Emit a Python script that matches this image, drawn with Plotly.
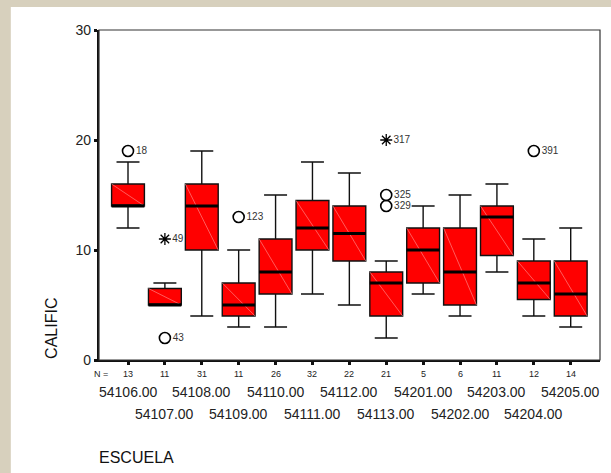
import plotly.graph_objects as go

# ---- data ----
schools = ["54106.00", "54107.00", "54108.00", "54109.00", "54110.00", "54111.00", "54112.00",
           "54113.00", "54201.00", "54202.00", "54203.00", "54204.00", "54205.00"]
n_counts = [13, 11, 31, 11, 26, 32, 22, 21, 5, 6, 11, 12, 14]
lower_whisker = [12, 5, 4, 3, 3, 6, 5, 2, 6, 4, 8, 4, 3]
q1 = [14, 5, 10, 4, 6, 10, 9, 4, 7, 5, 9.5, 5.5, 4]
median = [14, 5, 14, 5, 8, 12, 11.5, 7, 10, 8, 13, 7, 6]
q3 = [16, 6.5, 16, 7, 11, 14.5, 14, 8, 12, 12, 14, 9, 9]
upper_whisker = [18, 7, 19, 10, 15, 18, 17, 9, 14, 15, 16, 11, 12]

# outliers (circles) and extremes (stars): school index, value, case label
out_idx = [0, 1, 3, 7, 7, 11]
out_val = [19, 2, 13, 15, 14, 19]
out_lbl = ["18", "43", "123", "325", "329", "391"]
ext_idx = [1, 7]
ext_val = [11, 20]
ext_lbl = ["49", "317"]

BOX_W = 0.89
pos = list(range(len(schools)))
FONT = "Arial, Liberation Sans, sans-serif"

fig = go.Figure()

fig.add_trace(go.Box(
    x=pos, q1=q1, median=median, q3=q3,
    lowerfence=lower_whisker, upperfence=upper_whisker,
    width=BOX_W, whiskerwidth=0.7, boxpoints=False,
    fillcolor="#ff0000", line=dict(color="#111111", width=1.4),
    showlegend=False, hoverinfo="skip"))

# faint diagonal inside each box
dx, dy = [], []
for i in pos:
    dx += [i - BOX_W / 2, i + BOX_W / 2, None]
    dy += [q3[i], q1[i], None]
fig.add_trace(go.Scatter(x=dx, y=dy, mode="lines",
                         line=dict(color="rgba(255,170,170,0.9)", width=0.6),
                         showlegend=False, hoverinfo="skip"))

# thick median lines
mx, my = [], []
for i in pos:
    mx += [i - BOX_W / 2, i + BOX_W / 2, None]
    my += [median[i], median[i], None]
fig.add_trace(go.Scatter(x=mx, y=my, mode="lines",
                         line=dict(color="#000000", width=3.2),
                         showlegend=False, hoverinfo="skip"))

fig.add_trace(go.Scatter(x=out_idx, y=out_val, mode="markers+text",
                         marker=dict(symbol="circle-open", size=11, color="#000000",
                                     line=dict(width=1.6, color="#000000")),
                         text=out_lbl, textposition="middle right",
                         textfont=dict(family=FONT, size=10, color="#333333"),
                         showlegend=False, hoverinfo="skip"))
fig.add_trace(go.Scatter(x=ext_idx, y=ext_val, mode="markers+text",
                         marker=dict(symbol="asterisk-open", size=10, color="#000000",
                                     line=dict(width=1.3, color="#000000")),
                         text=ext_lbl, textposition="middle right",
                         textfont=dict(family=FONT, size=10, color="#333333"),
                         showlegend=False, hoverinfo="skip"))

annotations = []
for i, (s, n) in enumerate(zip(schools, n_counts)):
    annotations.append(dict(x=i, y=-0.043, xref="x", yref="paper", text=str(n),
                            xanchor="center", yanchor="middle",
                            showarrow=False, font=dict(family=FONT, size=9, color="#222222")))
    annotations.append(dict(x=i, y=-0.097 if i % 2 == 0 else -0.164, xref="x", yref="paper",
                            text=s, showarrow=False, xanchor="center", yanchor="middle",
                            font=dict(family=FONT, size=14, color="#222222")))
annotations.append(dict(x=0.004, y=-0.043, xref="paper", yref="paper", text="N =",
                        xanchor="center", yanchor="middle", showarrow=False,
                        font=dict(family=FONT, size=9, color="#222222")))
annotations.append(dict(x=-0.003, y=-0.294, xref="paper", yref="paper", text="ESCUELA",
                        xanchor="left", yanchor="middle", showarrow=False,
                        font=dict(family=FONT, size=16, color="#111111")))
annotations.append(dict(x=-0.094, y=0.097, xref="paper", yref="paper", text="CALIFIC",
                        textangle=-90, xanchor="center", yanchor="middle", showarrow=False,
                        font=dict(family=FONT, size=16, color="#111111")))

fig.update_layout(
    width=611, height=473,
    margin=dict(l=99, r=11, t=30, b=113),
    paper_bgcolor="#d7d0bd", plot_bgcolor="#ffffff",
    annotations=annotations,
    shapes=[
        dict(type="rect", xref="paper", yref="paper", x0=-0.176, x1=1.03, y0=-0.36, y1=1.07,
             fillcolor="#ffffff", line=dict(width=0), layer="below"),
        dict(type="rect", xref="paper", yref="paper", x0=0, x1=1, y0=0, y1=1,
             line=dict(color="#333333", width=1.2), layer="above"),
    ],
    xaxis=dict(range=[-0.786, 12.794], tickmode="array", tickvals=pos, showticklabels=False,
               showgrid=False, zeroline=False, showline=True, linecolor="#111111", linewidth=2,
               ticks="outside", ticklen=3, tickwidth=3, tickcolor="#111111"),
    yaxis=dict(range=[0, 30], tickvals=[0, 10, 20, 30], showgrid=False, zeroline=False,
               showline=True, linecolor="#111111", linewidth=2.2,
               ticks="outside", ticklen=3, tickwidth=3, tickcolor="#111111",
               tickfont=dict(family=FONT, size=14, color="#222222")),
)

fig.write_html("out.html", config={"displayModeBar": False},
               post_script="document.body.style.margin='0';document.body.style.padding='0';"
                           "document.body.style.overflow='hidden';")
